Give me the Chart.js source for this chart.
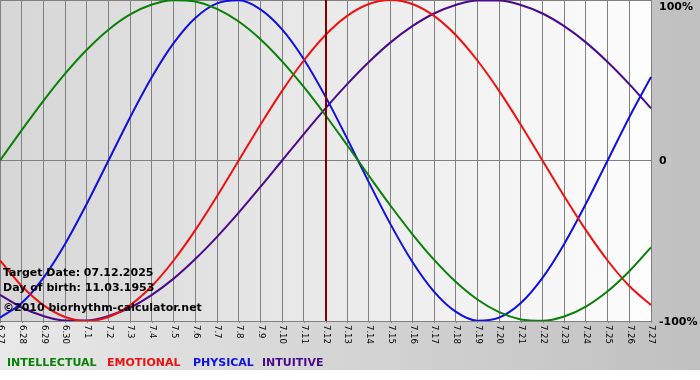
<!DOCTYPE html>
<html><head><meta charset="utf-8">
<style>html,body{margin:0;padding:0;background:#fff;}canvas{display:block;}</style>
<script src="https://cdn.jsdelivr.net/npm/chart.js@4/dist/chart.umd.min.js"></script>
</head><body>
<canvas id="c" width="700" height="380"></canvas>
<script>
const dayLabels = ['6.27','6.28','6.29','6.30','7.1','7.2','7.3','7.4','7.5','7.6','7.7','7.8','7.9','7.10','7.11','7.12','7.13','7.14','7.15','7.16','7.17','7.18','7.19','7.20','7.21','7.22','7.23','7.24','7.25','7.26','7.27'];
const intellectual = [0,18.9,37.2,54.1,69.0,81.5,91.0,97.2,99.9,99.0,94.5,86.6,75.6,61.8,45.8,28.2,9.5,-9.5,-28.2,-45.8,-61.8,-75.6,-86.6,-94.5,-99.0,-99.9,-97.2,-91.0,-81.5,-69.0,-54.1];
const emotional = [-62.3,-78.2,-90.1,-97.5,-100,-97.5,-90.1,-78.2,-62.3,-43.4,-22.3,0,22.3,43.4,62.3,78.2,90.1,97.5,100,97.5,90.1,78.2,62.3,43.4,22.3,0,-22.3,-43.4,-62.3,-78.2,-90.1];
const physical = [-97.9,-88.8,-73.1,-52.0,-27.0,0,27.0,52.0,73.1,88.8,97.9,99.8,94.2,81.7,63.1,39.8,13.6,-13.6,-39.8,-63.1,-81.7,-94.2,-99.8,-97.9,-88.8,-73.1,-52.0,-27.0,0,27.0,52.0];
const intuitive = [-83.7,-91.6,-96.9,-99.7,-99.7,-96.9,-91.6,-83.7,-73.6,-61.4,-47.6,-32.5,-16.5,0,16.5,32.5,47.6,61.4,73.6,83.7,91.6,96.9,99.7,99.7,96.9,91.6,83.7,73.6,61.4,47.6,32.5];
const seriesNames = ['INTELLECTUAL','EMOTIONAL','PHYSICAL','INTUITIVE'];
const seriesColors = ['#0a800a','#ee1111','#1010e0','#4b0a8a'];
const yTickValues = [100,0,-100];
const yTickLabels = ['100%','0','-100%'];
const targetDay = '7.12';
const infoLines = ['Target Date: 07.12.2025','Day of birth: 11.03.1953','\u00A92010 biorhythm-calculator.net'];

const legendX = [7,107,193,262];

const bgPlugin = {
  id:'bg',
  beforeDraw(chart){
    const {ctx, chartArea:a} = chart;
    ctx.save();
    let g = ctx.createLinearGradient(0,0,700,0);
    g.addColorStop(0,'#e8e8e8'); g.addColorStop(1,'#c0c0c0');
    ctx.fillStyle = g; ctx.fillRect(0,0,700,370);
    ctx.fillStyle = '#ffffff'; ctx.fillRect(0,370,700,10);
    let g2 = ctx.createLinearGradient(a.left,0,a.right,0);
    g2.addColorStop(0,'#d6d6d6'); g2.addColorStop(1,'#fdfdfd');
    ctx.fillStyle = g2; ctx.fillRect(a.left,a.top,a.right-a.left,a.bottom-a.top);
    ctx.restore();
  },
  afterDatasetsDraw(chart){
    const {ctx, chartArea:a, scales} = chart;
    const xs = scales.x;
    const ti = dayLabels.indexOf(targetDay);
    const tx = Math.round(xs.getPixelForValue(ti));
    ctx.save();
    ctx.strokeStyle = '#800000'; ctx.lineWidth = 2;
    ctx.beginPath(); ctx.moveTo(tx, a.top); ctx.lineTo(tx, a.bottom); ctx.stroke();
    ctx.fillStyle = '#000';
    ctx.font = 'bold 11px "DejaVu Sans"';
    ctx.textBaseline = 'alphabetic'; ctx.textAlign = 'left';
    const ys = [276,291,311];
    infoLines.forEach((t,i)=>ctx.fillText(t,3,ys[i]));
    ctx.restore();
  },
  afterDraw(chart){
    const {ctx, chartArea:a, scales} = chart;
    const xs = scales.x, yS = scales.y;
    ctx.save();
    // tick marks
    ctx.strokeStyle = '#808080'; ctx.lineWidth = 1;
    dayLabels.forEach((l,i)=>{
      const x = Math.round(xs.getPixelForValue(i)) + 0.5;
      ctx.beginPath(); ctx.moveTo(x,a.bottom); ctx.lineTo(x,a.bottom+2); ctx.stroke();
    });
    // x labels rotated clockwise
    ctx.fillStyle = '#000';
    ctx.font = '8.5px "DejaVu Sans"';
    ctx.textAlign = 'left'; ctx.textBaseline = 'middle';
    dayLabels.forEach((l,i)=>{
      const x = xs.getPixelForValue(i);
      ctx.save(); ctx.translate(x+0.5, a.bottom+4); ctx.rotate(Math.PI/2);
      ctx.fillText(l,0,0); ctx.restore();
    });
    // y labels
    ctx.font = 'bold 11px "DejaVu Sans"';
    ctx.textBaseline = 'middle';
    yTickValues.forEach((v,i)=>{
      const y = Math.max(yS.getPixelForValue(v)+1, a.top+7);
      ctx.fillText(yTickLabels[i], 659, y);
    });
    // legend
    ctx.textBaseline = 'alphabetic';
    seriesNames.forEach((n,i)=>{
      ctx.fillStyle = seriesColors[i];
      ctx.fillText(n, legendX[i], 366);
    });
    ctx.restore();
  }
};

const mk = (i,data)=>({label:seriesNames[i],data,borderColor:seriesColors[i],borderWidth:2,pointRadius:0,cubicInterpolationMode:'monotone',fill:false});

new Chart(document.getElementById('c'),{
  type:'line',
  data:{labels:dayLabels,datasets:[mk(0,intellectual),mk(1,emotional),mk(2,physical),mk(3,intuitive)]},
  options:{
    responsive:false, animation:false, devicePixelRatio:1,
    layout:{padding:{left:0,top:0,right:49,bottom:59}},
    plugins:{legend:{display:false},tooltip:{enabled:false}},
    scales:{
      x:{type:'category',offset:false,grid:{color:'#808080',lineWidth:1,drawTicks:false},border:{display:false},ticks:{display:false}},
      y:{type:'linear',position:'right',min:-100,max:100,ticks:{display:false,stepSize:100},grid:{color:'#808080',lineWidth:1,drawTicks:false},border:{display:false}}
    }
  },
  plugins:[bgPlugin]
});
</script>
</body></html>
